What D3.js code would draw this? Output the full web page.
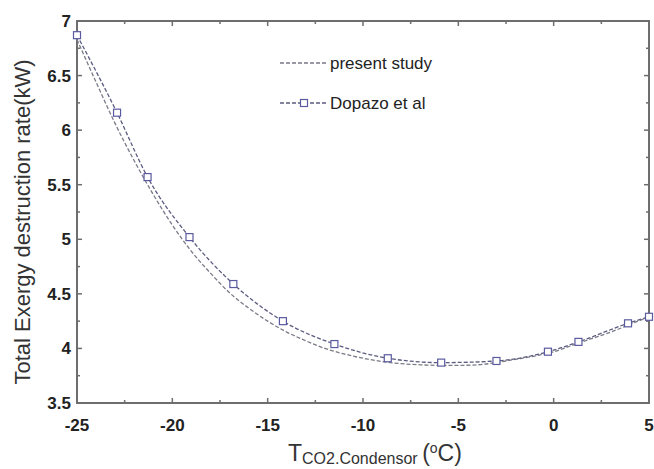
<!DOCTYPE html>
<html>
<head>
<meta charset="utf-8">
<script src="https://cdn.jsdelivr.net/npm/d3@7"></script>
<style>
  body { margin: 0; background: #fff; }
  text { font-family: Arial, "Liberation Sans", sans-serif; }
</style>
</head>
<body>
<svg id="chart" width="654" height="469"></svg>
<script>
// data
let study_x = [-25, -24, -23, -22, -21, -20, -19, -18, -17, -16, -15, -14, -13, -12, -11, -10, -9, -8, -7, -6, -5, -4, -3, -2, -1, 0, 1, 2, 3, 4, 5]
let study_y = [6.83, 6.44, 6.06, 5.72, 5.41, 5.13, 4.89, 4.69, 4.51, 4.37, 4.25, 4.15, 4.07, 4.0, 3.95, 3.91, 3.88, 3.86, 3.85, 3.845, 3.845, 3.85, 3.87, 3.9, 3.93, 3.97, 4.03, 4.09, 4.15, 4.22, 4.29]
let dopazo_x = [-25, -22.9, -21.3, -19.1, -16.8, -14.2, -11.5, -8.7, -5.9, -3.0, -0.3, 1.3, 3.9, 5.0]
let dopazo_y = [6.87, 6.16, 5.57, 5.02, 4.59, 4.25, 4.04, 3.91, 3.87, 3.885, 3.97, 4.06, 4.23, 4.29]
let x_ticks = [-25, -20, -15, -10, -5, 0, 5]
let y_ticks = [3.5, 4, 4.5, 5, 5.5, 6, 6.5, 7]
let legend_labels = ["present study", "Dopazo et al"]

let plot_left = 77, plot_right = 649, plot_top = 21, plot_bottom = 403
let svg = d3.select("#chart")

let x = d3.scaleLinear().domain([-25, 5]).range([plot_left, plot_right])
let y = d3.scaleLinear().domain([3.5, 7]).range([plot_bottom, plot_top])

let axis_color = "#6e6e6e"
let minor_x = d3.range(-22.5, 5, 5)
let minor_y = d3.range(3.75, 7, 0.5)

// frame
svg.append("rect")
  .attr("x", plot_left).attr("y", plot_top)
  .attr("width", plot_right - plot_left).attr("height", plot_bottom - plot_top)
  .attr("fill", "none").attr("stroke", axis_color).attr("stroke-width", 2)

function ticks_x(vals, len, ypos, dir) {
  svg.selectAll(null).data(vals).enter().append("line")
    .attr("x1", d => x(d)).attr("x2", d => x(d))
    .attr("y1", ypos).attr("y2", ypos + dir * len)
    .attr("stroke", axis_color).attr("stroke-width", 1.5)
}
function ticks_y(vals, len, xpos, dir) {
  svg.selectAll(null).data(vals).enter().append("line")
    .attr("y1", d => y(d)).attr("y2", d => y(d))
    .attr("x1", xpos).attr("x2", xpos + dir * len)
    .attr("stroke", axis_color).attr("stroke-width", 1.5)
}
ticks_x(x_ticks, 5, plot_bottom, -1)
ticks_x(minor_x, 3, plot_bottom, -1)
ticks_x(x_ticks, 5, plot_top, 1)
ticks_x(minor_x, 3, plot_top, 1)
ticks_y(y_ticks, 5, plot_left, 1)
ticks_y(minor_y, 3, plot_left, 1)
ticks_y(y_ticks, 5, plot_right, -1)
ticks_y(minor_y, 3, plot_right, -1)

// tick labels
svg.selectAll(null).data(x_ticks).enter().append("text")
  .attr("x", d => x(d)).attr("y", 431)
  .attr("text-anchor", "middle")
  .attr("font-size", 17).attr("font-weight", "bold").attr("fill", "#222")
  .text(d => d)
svg.selectAll(null).data(y_ticks).enter().append("text")
  .attr("x", 71).attr("y", d => y(d) + 6)
  .attr("text-anchor", "end")
  .attr("font-size", 17).attr("font-weight", "bold").attr("fill", "#222")
  .text(d => d)

// axis titles
svg.append("text")
  .attr("transform", "translate(30,222) rotate(-90)")
  .attr("text-anchor", "middle")
  .attr("font-size", 22).attr("fill", "#333")
  .text("Total Exergy destruction rate(kW)")

let xt = svg.append("text")
  .attr("x", 288).attr("y", 461)
  .attr("font-size", 23).attr("fill", "#333")
xt.append("tspan").text("T")
xt.append("tspan").attr("font-size", 16).attr("dy", 3).text("CO2.Condensor ")
xt.append("tspan").attr("font-size", 23).attr("dy", -3).text("(")
xt.append("tspan").attr("font-size", 14).attr("dy", -8).text("o")
xt.append("tspan").attr("font-size", 23).attr("dy", 8).text("C)")

// curves
let line = d3.line().x(d => x(d[0])).y(d => y(d[1])).curve(d3.curveMonotoneX)
let study = study_x.map((v, i) => [v, study_y[i]])
let dopazo = dopazo_x.map((v, i) => [v, dopazo_y[i]])

svg.append("path").datum(study)
  .attr("d", line).attr("fill", "none")
  .attr("stroke", "#7a7a88").attr("stroke-width", 1.3)
  .attr("stroke-dasharray", "4,2")

svg.append("path").datum(dopazo)
  .attr("d", line).attr("fill", "none")
  .attr("stroke", "#5c5c80").attr("stroke-width", 1.3)
  .attr("stroke-dasharray", "4,2")

svg.selectAll(null).data(dopazo).enter().append("rect")
  .attr("x", d => x(d[0]) - 3.5).attr("y", d => y(d[1]) - 3.5)
  .attr("width", 7).attr("height", 7)
  .attr("fill", "#fff").attr("stroke", "#5a5aa0").attr("stroke-width", 1.2)

// legend
svg.append("line")
  .attr("x1", 280).attr("x2", 328).attr("y1", 63).attr("y2", 63)
  .attr("stroke", "#7a7a88").attr("stroke-width", 1.3).attr("stroke-dasharray", "4,2")
svg.append("line")
  .attr("x1", 280).attr("x2", 328).attr("y1", 103).attr("y2", 103)
  .attr("stroke", "#5c5c80").attr("stroke-width", 1.3).attr("stroke-dasharray", "4,2")
svg.append("rect")
  .attr("x", 300.5).attr("y", 99.5).attr("width", 7).attr("height", 7)
  .attr("fill", "#fff").attr("stroke", "#5a5aa0").attr("stroke-width", 1.2)
svg.selectAll(null).data(legend_labels).enter().append("text")
  .attr("x", 330).attr("y", (d, i) => 69 + i * 40)
  .attr("font-size", 17).attr("fill", "#222")
  .text(d => d)
</script>
</body>
</html>
